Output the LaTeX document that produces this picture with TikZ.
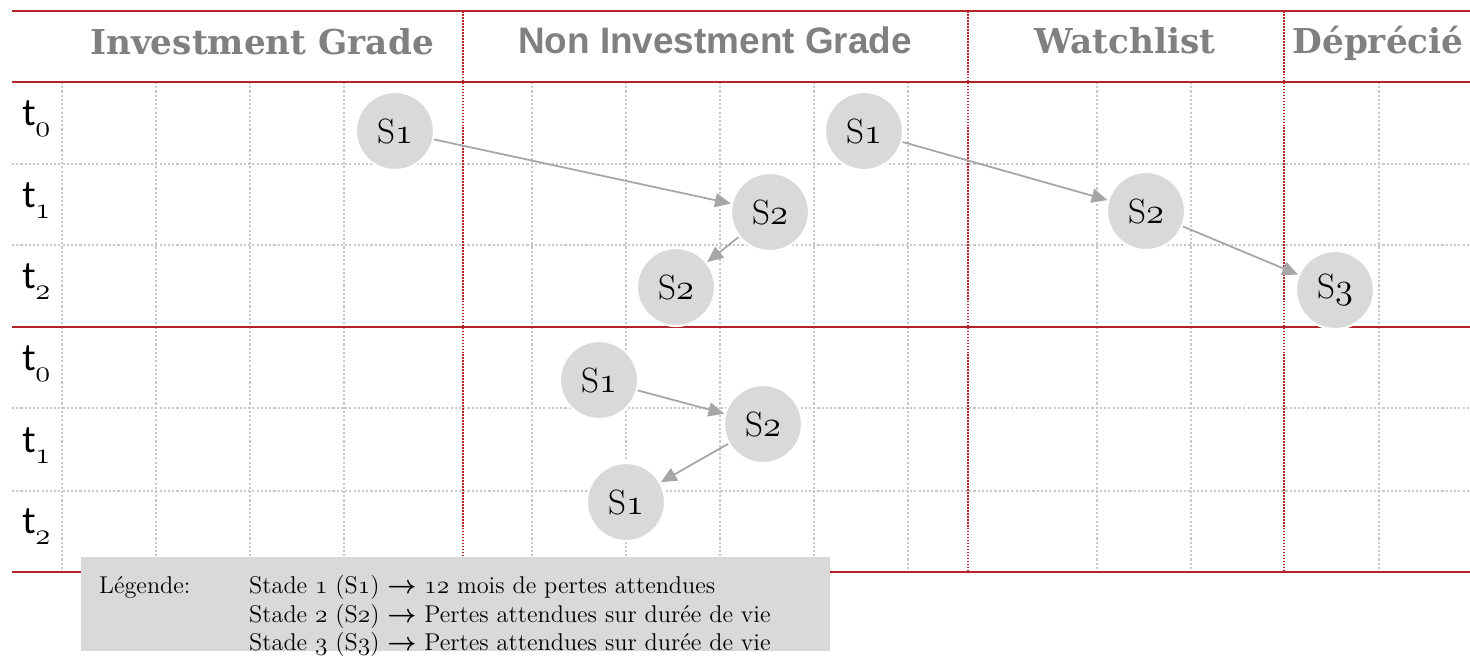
\documentclass[tikz,border=0pt]{standalone}
\usepackage{fontspec}
\usetikzlibrary{arrows.meta}
\newfontfamily\arialgras{Liberation Sans}
\newfontfamily\seriftitre{DejaVu Serif}
\newfontfamily\tfont{Lato}
\newcommand{\vieux}[1]{{\fontencoding{OML}\fontfamily{lmm}\fontseries{m}\fontshape{it}\selectfont #1}}
\newcommand{\versdroite}{{\boldmath$\rightarrow$}}
\newcommand{\indice}[1]{\raisebox{-.3em}{\fontsize{18}{18}\selectfont\vieux{#1}}}
\definecolor{rouge}{RGB}{180,35,40}
\definecolor{grisgrille}{RGB}{200,200,200}
\definecolor{griscercle}{RGB}{217,217,217}
\definecolor{grisfleche}{RGB}{166,166,166}
\definecolor{gristitre}{RGB}{128,128,128}
\begin{document}
\begin{tikzpicture} [x=0.02cm,y=-0.02cm,
    grille/.style={grisgrille, line width=.8pt, dash pattern=on 1.2pt off 1.2pt},
    separation/.style={rouge, line width=1.2pt, dash pattern=on 1pt off .7pt},
    trait/.style={rouge, line width=1.3pt},
    titre/.style={text=gristitre, anchor=base, font=\fontsize{19.5}{23}\selectfont\seriftitre\bfseries},
    temps/.style={anchor=base west, font=\fontsize{21}{23}\selectfont\tfont},
    etat/.style={circle, fill=griscercle, draw=white, line width=1.2pt, minimum size=1.56cm, inner sep=0pt, font=\fontsize{20}{22}\selectfont},
    fleche/.style={draw=grisfleche, line width=1pt, -{Triangle[length=9pt,width=8pt]}},
    legende/.style={anchor=base west, font=\fontsize{13.8}{16}\selectfont}]
    \useasboundingbox (0,0) rectangle (1470,657);
    % lignes de la grille
    \draw [grille] (12,164) -- (1470,164);
    \draw [grille] (12,245) -- (1470,245);
    \draw [grille] (12,408) -- (1470,408);
    \draw [grille] (12,491) -- (1470,491);
    \draw [grille] (62,82) -- (62,572);
    \draw [grille] (156,82) -- (156,572);
    \draw [grille] (250,82) -- (250,572);
    \draw [grille] (344,82) -- (344,572);
    \draw [grille] (532,82) -- (532,572);
    \draw [grille] (626,82) -- (626,572);
    \draw [grille] (720,82) -- (720,572);
    \draw [grille] (814,82) -- (814,572);
    \draw [grille] (908,82) -- (908,572);
    \draw [grille] (1097,82) -- (1097,572);
    \draw [grille] (1191,82) -- (1191,572);
    \draw [grille] (1379,82) -- (1379,572);
    % separations des categories
    \draw [separation] (463,11) -- (463,572);
    \draw [separation] (968,11) -- (968,572);
    \draw [separation] (1284,11) -- (1284,572);
    % lignes rouges
    \draw [trait] (12,11) -- (1470,11);
    \draw [trait] (12,82) -- (1470,82);
    \draw [trait] (12,327) -- (1470,327);
    \draw [trait] (12,572) -- (1470,572);
    % titres
    \node [titre] (ig) at (262,54) {Investment Grade};
    \node [titre, font=\fontsize{21}{25}\selectfont\arialgras\bfseries] (nig) at (715,53) {Non Investment Grade};
    \node [titre] (wl) at (1125,53) {Watchlist};
    \node [titre] (dep) at (1378,53) {Déprécié};
    % temps
    \node [temps] (ha) at (16,125) {t\indice{0}};
    \node [temps] (hb) at (16,207) {t\indice{1}};
    \node [temps] (hc) at (16,288) {t\indice{2}};
    \node [temps] (ba) at (16,370) {t\indice{0}};
    \node [temps] (bb) at (16,452) {t\indice{1}};
    \node [temps] (bc) at (16,533) {t\indice{2}};
    % bloc du haut
    \node [etat] (s1a) at (395,131) {S\vieux{1}};
    \node [etat] (s2a) at (770,212) {S\vieux{2}};
    \node [etat] (s2b) at (676,287) {S\vieux{2}};
    \node [etat] (s1b) at (864,131) {S\vieux{1}};
    \node [etat] (s2c) at (1146,211) {S\vieux{2}};
    \node [etat] (s3a) at (1335,290) {S\vieux{3}};
    \draw [fleche] (s1a) -- (s2a);
    \draw [fleche] (s2a) -- (s2b);
    \draw [fleche] (s1b) -- (s2c);
    \draw [fleche] (s2c) -- (s3a);
    % bloc du bas
    \node [etat] (s1c) at (599,380) {S\vieux{1}};
    \node [etat] (s2d) at (763,424) {S\vieux{2}};
    \node [etat] (s1d) at (626,502) {S\vieux{1}};
    \draw [fleche] (s1c) -- (s2d);
    \draw [fleche] (s2d) -- (s1d);
    % legende
    \fill [griscercle] (81,557) rectangle (830,651);
    \node [legende] (leg) at (93,593) {Légende:};
    \node [legende] (la) at (243,593) {Stade \vieux{1} (S\vieux{1}) \versdroite{} \vieux{12} mois de pertes attendues};
    \node [legende] (lb) at (243,622) {Stade \vieux{2} (S\vieux{2}) \versdroite{} Pertes attendues sur durée de vie};
    \node [legende] (lc) at (243,650) {Stade \vieux{3} (S\vieux{3}) \versdroite{} Pertes attendues sur durée de vie};
\end{tikzpicture}
\end{document}
